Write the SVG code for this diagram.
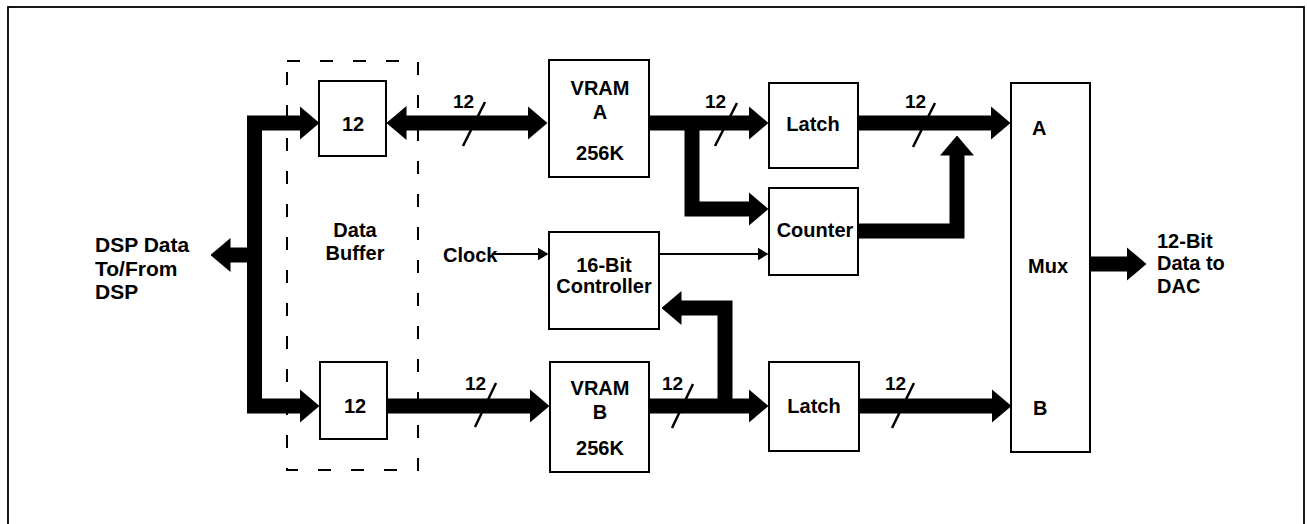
<svg xmlns="http://www.w3.org/2000/svg" width="1307" height="524" viewBox="0 0 1307 524">
<defs>
<style>
.box{fill:#fff;stroke:#000;stroke-width:2}
.bus{fill:none;stroke:#000;stroke-width:15;stroke-linejoin:miter}
.thin{fill:none;stroke:#000;stroke-width:2}
.tick{fill:none;stroke:#000;stroke-width:2.5}
text{font-family:"Liberation Sans",Arial,Helvetica,sans-serif;font-weight:bold;font-size:20px;fill:#000}
.c{text-anchor:middle}
.lbl{font-size:19px}
.big{font-size:21px}
</style>
<marker id="ah" markerUnits="userSpaceOnUse" markerWidth="20" markerHeight="34" refX="0.5" refY="17" orient="auto-start-reverse">
<path d="M0,0 L20,17 L0,34 Z" fill="#000"/>
</marker>
<marker id="sh" markerUnits="userSpaceOnUse" markerWidth="11" markerHeight="13" refX="0.5" refY="6.5" orient="auto">
<path d="M0,0 L11,6.5 L0,13 Z" fill="#000"/>
</marker>
</defs>
<rect x="8" y="7" width="1296" height="540" fill="none" stroke="#000" stroke-width="1.8"/>

<g id="data-buffer">
<rect x="287" y="61" width="131" height="409" fill="none" stroke="#000" stroke-width="2" stroke-dasharray="13 20"/>
<text class="c" x="355" y="237">Data</text>
<text class="c" x="355" y="260">Buffer</text>
</g>

<g id="connectors">
<path class="bus" d="M300,123 L254.5,123 L254.5,406 L300,406" marker-start="url(#ah)" marker-end="url(#ah)"/>
<path class="bus" d="M254.5,255 L230,255" marker-end="url(#ah)"/>
<path class="bus" d="M406,123 L528,123" marker-start="url(#ah)" marker-end="url(#ah)"/>
<path class="bus" d="M649,123 L749,123" marker-end="url(#ah)"/>
<path class="bus" d="M692,123 L692,209 L749,209" marker-end="url(#ah)"/>
<path class="bus" d="M858,123 L991,123" marker-end="url(#ah)"/>
<path class="bus" d="M858,231 L957,231 L957,155" marker-end="url(#ah)"/>
<path class="bus" d="M387,406 L530,406" marker-end="url(#ah)"/>
<path class="bus" d="M649,406 L749,406" marker-end="url(#ah)"/>
<path class="bus" d="M725,406 L725,308 L681,308" marker-end="url(#ah)"/>
<path class="bus" d="M859,406 L992,406" marker-end="url(#ah)"/>
<path class="bus" d="M1090,264 L1127,264" marker-end="url(#ah)"/>
<path class="thin" d="M492,254 L538,254" marker-end="url(#sh)"/>
<path class="thin" d="M659,254 L758,254" marker-end="url(#sh)"/>
<line class="tick" x1="485" y1="102" x2="463" y2="146"/>
<line class="tick" x1="737" y1="103" x2="715" y2="146"/>
<line class="tick" x1="935" y1="103" x2="913" y2="147"/>
<line class="tick" x1="496" y1="383" x2="475" y2="427"/>
<line class="tick" x1="693" y1="384" x2="672" y2="428"/>
<line class="tick" x1="914" y1="383" x2="892" y2="428"/>
<text class="lbl" x="453" y="108">12</text>
<text class="lbl" x="705" y="108">12</text>
<text class="lbl" x="905" y="108">12</text>
<text class="lbl" x="465" y="390">12</text>
<text class="lbl" x="662" y="390">12</text>
<text class="lbl" x="885" y="390">12</text>
</g>

<g id="dsp-label">
<text class="big" x="95" y="252">DSP Data</text>
<text class="big" x="95" y="276">To/From</text>
<text class="big" x="95" y="299">DSP</text>
</g>

<g id="buf-top">
<rect class="box" x="319" y="81" width="67" height="75"/>
<text class="c" x="353" y="131">12</text>
</g>
<g id="buf-bottom">
<rect class="box" x="320" y="362" width="67" height="77"/>
<text class="c" x="355" y="413">12</text>
</g>

<g id="vram-a">
<rect class="box" x="549" y="60" width="100" height="117"/>
<text class="c" x="600" y="95">VRAM</text>
<text class="c" x="600" y="119">A</text>
<text class="c" x="600" y="160">256K</text>
</g>

<g id="vram-b">
<rect class="box" x="550" y="362" width="99" height="110"/>
<text class="c" x="600" y="395">VRAM</text>
<text class="c" x="600" y="419">B</text>
<text class="c" x="600" y="455">256K</text>
</g>

<g id="clock">
<text x="443" y="262">Clock</text>
</g>

<g id="controller">
<rect class="box" x="549" y="232" width="110" height="97"/>
<text class="c" x="604" y="272">16-Bit</text>
<text class="c" x="604" y="293">Controller</text>
</g>

<g id="latch-a">
<rect class="box" x="769" y="83" width="89" height="85"/>
<text class="c" x="813" y="131">Latch</text>
</g>

<g id="counter">
<rect class="box" x="769" y="188" width="89" height="87"/>
<text class="c" x="815" y="237">Counter</text>
</g>

<g id="latch-b">
<rect class="box" x="769" y="362" width="90" height="89"/>
<text class="c" x="814" y="413">Latch</text>
</g>

<g id="mux">
<rect class="box" x="1011" y="83" width="79" height="369"/>
<text x="1032" y="135">A</text>
<text x="1028" y="273">Mux</text>
<text x="1033" y="415">B</text>
</g>

<g id="dac-label">
<text x="1157" y="248">12-Bit</text>
<text x="1157" y="270">Data to</text>
<text x="1157" y="293">DAC</text>
</g>
</svg>
